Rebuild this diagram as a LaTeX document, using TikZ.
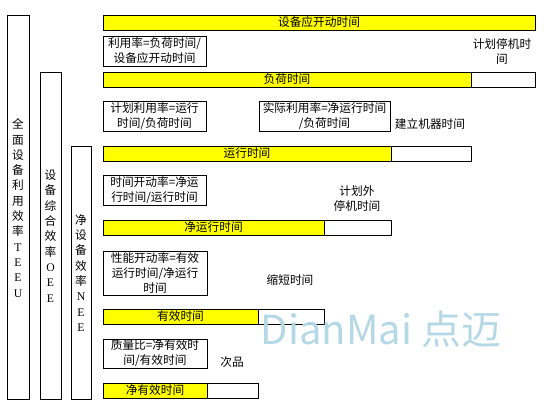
\documentclass[tikz,border=0pt]{standalone}
\usepackage{fontspec}
\setmainfont{Noto Sans CJK SC}
\newfontfamily\letterfont{Liberation Serif}
\begin{document}
\begin{tikzpicture}[x=1pt,y=-1pt,line width=0.9pt,
  every node/.style={font=\fontsize{11.7}{15}\selectfont,inner sep=0pt,align=center},
  frame/.style={draw=black,fill=white},
  busy/.style={fill=timeyellow},
  vtext/.style={font=\fontsize{11.7}{15.3}\selectfont}]
\definecolor{timeyellow}{HTML}{FFFF00}
\definecolor{markblue}{HTML}{B4D8E6}
\useasboundingbox (0,0) rectangle (544,407);
% efficiency columns
\draw[frame] (7,15) rectangle (29,399);
\draw[frame] (40,72) rectangle (61,399);
\draw[frame] (71,146) rectangle (91,399);
\node[vtext] (teeu) at (18,208) {全\\面\\设\\备\\利\\用\\效\\率\\{\letterfont T}\\{\letterfont E}\\{\letterfont E}\\{\letterfont U}};
\node[vtext] (oee) at (50.5,236) {设\\备\\综\\合\\效\\率\\{\letterfont O}\\{\letterfont E}\\{\letterfont E}};
\node[vtext] (nee) at (81,273) {净\\设\\备\\效\\率\\{\letterfont N}\\{\letterfont E}\\{\letterfont E}};
% time bars
\draw[frame,busy] (103,15) rectangle (535,30);
\node (planned) at (319,22.5) {设备应开动时间};
\draw[frame] (103,72) rectangle (535,87);
\draw[frame,busy] (103,72) rectangle (471,87);
\node (load) at (287,79.5) {负荷时间};
\draw[frame] (103,146) rectangle (471,161);
\draw[frame,busy] (103,146) rectangle (391,161);
\node (run) at (247,153.5) {运行时间};
\draw[frame] (103,220) rectangle (391,235);
\draw[frame,busy] (103,220) rectangle (324,235);
\node (netrun) at (213.5,227.5) {净运行时间};
\draw[frame] (103,309) rectangle (324,324);
\draw[frame,busy] (103,309) rectangle (258,324);
\node (valid) at (180.5,316.5) {有效时间};
\draw[frame] (103,383) rectangle (258,398);
\draw[frame,busy] (103,383) rectangle (207,398);
\node (netvalid) at (155,390.5) {净有效时间};
% ratio boxes
\draw[frame] (103,36) rectangle (206,66);
\node (util) at (154.5,51) {利用率=负荷时间/\\设备应开动时间};
\draw[frame] (103,101) rectangle (206,131);
\node (planutil) at (154.5,116) {计划利用率=运行\\时间/负荷时间};
\draw[frame] (259,101) rectangle (390,131);
\node (realutil) at (324.5,116) {实际利用率=净运行时间\\/负荷时间};
\draw[frame] (103,175) rectangle (206,205);
\node (timerate) at (154.5,190) {时间开动率=净运\\行时间/运行时间};
\draw[frame] (103,251) rectangle (207,295);
\node (perfrate) at (155,273) {性能开动率=有效\\运行时间/净运行\\时间};
\draw[frame] (103,339) rectangle (207,368);
\node (quality) at (155,353.5) {质量比=净有效时\\间/有效时间};
% losses
\node (stopplan) at (502,52) {计划停机时\\间};
\node (setup) at (430,124) {建立机器时间};
\node (unplanned) at (357,199) {计划外\\停机时间};
\node (shortage) at (290,280) {缩短时间};
\node (reject) at (232,362) {次品};
% watermark
\node[text=markblue,font=\fontsize{40}{40}\selectfont] (mark) at (381,329) {DianMai 点迈};
\end{tikzpicture}
\end{document}
